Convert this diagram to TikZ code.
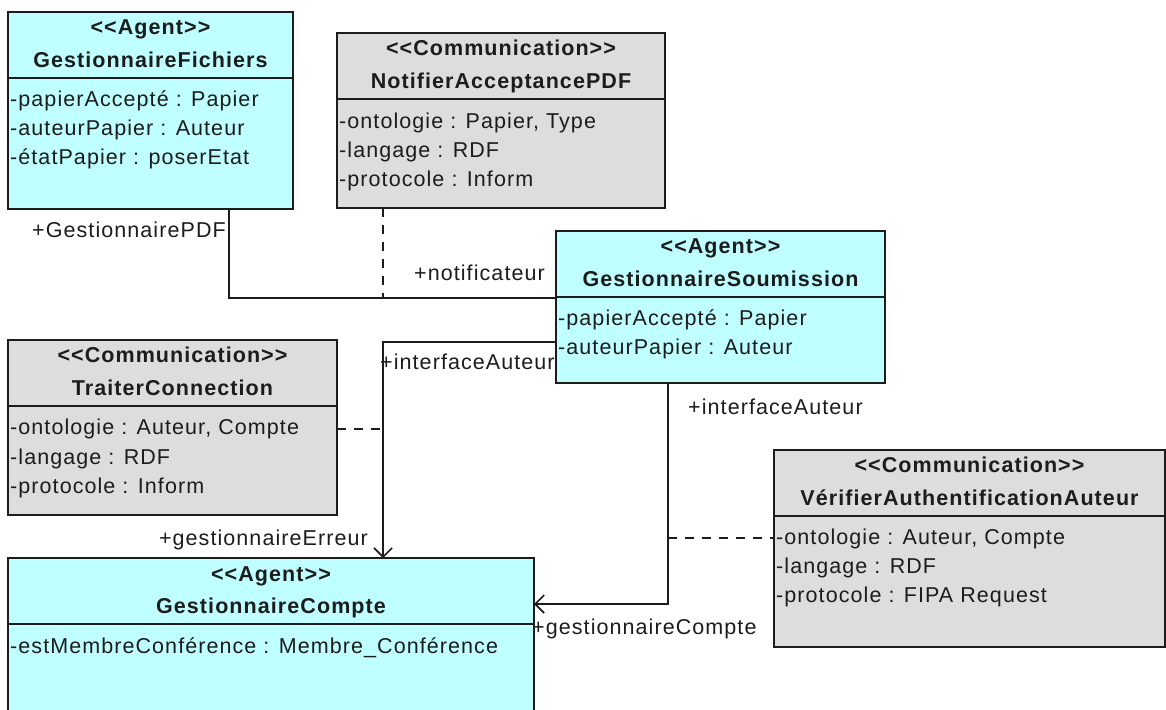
\documentclass[tikz,border=0pt]{standalone}
\usepackage{fontspec}
\newfontfamily\umlfont[LetterSpace=5]{Liberation Sans}
\usetikzlibrary{arrows.meta}
\definecolor{agentfill}{RGB}{191,255,255}
\definecolor{commfill}{RGB}{221,221,221}
\definecolor{ink}{RGB}{28,28,28}
\tikzset{
  box/.style={draw=ink, line width=1.6pt, outer sep=0pt, inner sep=0pt, anchor=north west},
  agent/.style={box, fill=agentfill},
  comm/.style={box, fill=commfill},
  attr/.style={font={\umlfont\fontsize{21.5}{26}\selectfont}, text=ink, inner sep=0pt, anchor=mid west, yshift=-5pt},
  roleleft/.style={attr, anchor=mid east},
  title/.style={font={\umlfont\bfseries\fontsize{21.5}{26}\selectfont}, text=ink, inner sep=0pt, anchor=mid, yshift=-5pt},
  assoc/.style={draw=ink, line width=1.6pt},
  dep/.style={draw=ink, line width=1.6pt, dash pattern=on 9pt off 8pt},
  nav/.style={assoc, -{Straight Barb[length=9pt,width=18pt,line width=1.6pt]}},
}
\begin{document}
\begin{tikzpicture}[x=1pt,y=-1pt]
\useasboundingbox (0,0) rectangle (1166,709);
\clip (0,0) rectangle (1166,709);

% ---- class boxes ----
\node[agent, minimum width=285pt, minimum height=197pt] (fich)   at (8,12)   {};
\node[comm,  minimum width=328pt, minimum height=175pt] (notif)  at (337,33) {};
\node[agent, minimum width=329pt, minimum height=152pt] (soum)   at (556,231) {};
\node[comm,  minimum width=329pt, minimum height=175pt] (trait)  at (8,340)  {};
\node[comm,  minimum width=391pt, minimum height=197pt] (verif)  at (774,450) {};
\node[agent, minimum width=526pt, minimum height=200pt] (compte) at (8,558)  {};

% compartment separators
\foreach \b in {fich,notif,soum,trait,verif,compte}
  \draw[assoc] ([yshift=-66pt]\b.north west) -- ([yshift=-66pt]\b.north east);

% ---- GestionnaireFichiers ----
\node[title] (fich-s) at ([yshift=-15pt]fich.north) {<<Agent>>};
\node[title] (fich-n) at ([yshift=-48pt]fich.north) {GestionnaireFichiers};
\node[attr] (fich-a1) at ([xshift=2pt,yshift=-87pt]fich.north west)  {-papierAccepté : Papier};
\node[attr] (fich-a2) at ([xshift=2pt,yshift=-116pt]fich.north west) {-auteurPapier : Auteur};
\node[attr] (fich-a3) at ([xshift=2pt,yshift=-145pt]fich.north west) {-étatPapier : poserEtat};

% ---- NotifierAcceptancePDF ----
\node[title] (notif-s) at ([yshift=-15pt]notif.north) {<<Communication>>};
\node[title] (notif-n) at ([yshift=-48pt]notif.north) {NotifierAcceptancePDF};
\node[attr] (notif-a1) at ([xshift=2pt,yshift=-88pt]notif.north west)  {-ontologie : Papier, Type};
\node[attr] (notif-a2) at ([xshift=2pt,yshift=-117pt]notif.north west) {-langage : RDF};
\node[attr] (notif-a3) at ([xshift=2pt,yshift=-146pt]notif.north west) {-protocole : Inform};

% ---- GestionnaireSoumission ----
\node[title] (soum-s) at ([yshift=-15pt]soum.north) {<<Agent>>};
\node[title] (soum-n) at ([yshift=-48pt]soum.north) {GestionnaireSoumission};
\node[attr] (soum-a1) at ([xshift=2pt,yshift=-87pt]soum.north west)  {-papierAccepté : Papier};
\node[attr] (soum-a2) at ([xshift=2pt,yshift=-116pt]soum.north west) {-auteurPapier : Auteur};

% ---- TraiterConnection ----
\node[title] (trait-s) at ([yshift=-15pt]trait.north) {<<Communication>>};
\node[title] (trait-n) at ([yshift=-48pt]trait.north) {TraiterConnection};
\node[attr] (trait-a1) at ([xshift=2pt,yshift=-87pt]trait.north west)  {-ontologie : Auteur, Compte};
\node[attr] (trait-a2) at ([xshift=2pt,yshift=-117pt]trait.north west) {-langage : RDF};
\node[attr] (trait-a3) at ([xshift=2pt,yshift=-146pt]trait.north west) {-protocole : Inform};

% ---- VérifierAuthentificationAuteur ----
\node[title] (verif-s) at ([yshift=-15pt]verif.north) {<<Communication>>};
\node[title] (verif-n) at ([yshift=-48pt]verif.north) {VérifierAuthentificationAuteur};
\node[attr] (verif-a1) at ([xshift=2pt,yshift=-87pt]verif.north west)  {-ontologie : Auteur, Compte};
\node[attr] (verif-a2) at ([xshift=2pt,yshift=-116pt]verif.north west) {-langage : RDF};
\node[attr] (verif-a3) at ([xshift=2pt,yshift=-145pt]verif.north west) {-protocole : FIPA Request};

% ---- GestionnaireCompte ----
\node[title] (compte-s) at ([yshift=-16pt]compte.north) {<<Agent>>};
\node[title] (compte-n) at ([yshift=-48pt]compte.north) {GestionnaireCompte};
\node[attr] (compte-a1) at ([xshift=2pt,yshift=-88pt]compte.north west) {-estMembreConférence : Membre\_Conférence};

% ---- routing guides ----
\coordinate (xPDF)   at (229,0);
\coordinate (xMid)   at (383,0);
\coordinate (xRight) at (668,0);
\coordinate (yNotif) at (0,298);
\coordinate (yIface) at (0,342);
\coordinate (yTrait) at (0,429);
\coordinate (yVerif) at (0,538);
\coordinate (yCpt)   at (0,604);

% ---- associations ----
\draw[assoc] (fich.south -| xPDF) |- (soum.west |- yNotif);
\draw[nav]   (soum.west |- yIface) -| (compte.north -| xMid);
\draw[nav]   (soum.south -| xRight) |- (compte.east |- yCpt);

% ---- association-class links ----
\draw[dep] (notif.south -| xMid) -- (xMid |- yNotif);
\draw[dep] (trait.east |- yTrait) -- (xMid |- yTrait);
\draw[dep] (xRight |- yVerif) -- (verif.west |- yVerif);

% ---- role names ----
\node[roleleft] (r-pdf)    at (226,230) {+GestionnairePDF};
\node[roleleft] (r-notif)  at (545,273) {+notificateur};
\node[attr]     (r-iface1) at (380,362) {+interfaceAuteur};
\node[roleleft] (r-err)    at (368,538) {+gestionnaireErreur};
\node[attr]     (r-iface2) at (688,407) {+interfaceAuteur};
\node[attr]     (r-cpt)    at (532,627) {+gestionnaireCompte};
\end{tikzpicture}
\end{document}
